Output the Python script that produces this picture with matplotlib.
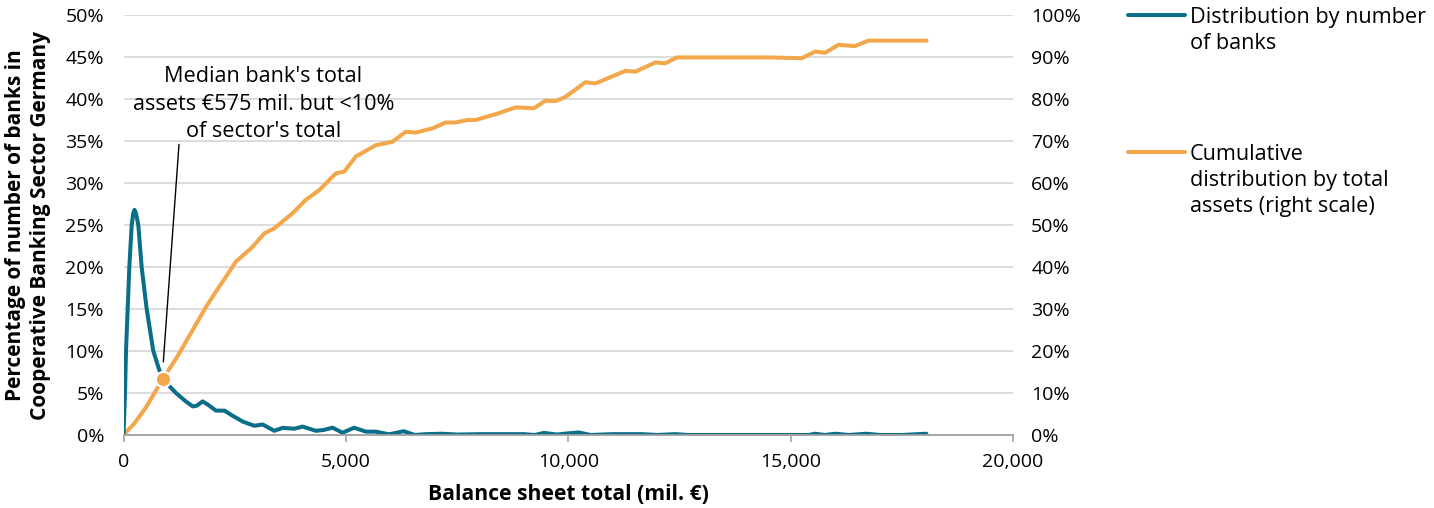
import matplotlib
matplotlib.use('Agg')
import matplotlib.pyplot as plt
from matplotlib.lines import Line2D
from matplotlib.ticker import FuncFormatter, MultipleLocator

plt.rcParams['font.family'] = ['Open Sans', 'DejaVu Sans']

# distribution by number of banks (left axis, %)
bank_x = [0, 34, 56, 94, 131, 184, 220, 247, 280, 333, 408, 521, 670, 800, 880, 1000, 1180,
          1400, 1560, 1650, 1780, 1900, 2080, 2270, 2450, 2680, 2940, 3130, 3390, 3580, 3840,
          4025, 4325, 4500, 4700, 4925, 5185, 5447, 5672, 5970, 6300, 6550, 6800, 7170,
          7500, 8000, 8500, 9000, 9250, 9450, 9750, 10000, 10240, 10500, 11000, 11650,
          12000, 12400, 12700, 13500, 14500, 15400, 15550, 15770, 16000, 16300, 16700,
          17000, 17500, 18050]
bank_pct = [0, 5, 10, 15, 20, 25, 26.4, 26.8, 26.4, 25, 20, 15, 10, 7.8, 6.7, 6.0, 5.0,
            4.0, 3.4, 3.5, 4.0, 3.6, 2.9, 2.9, 2.3, 1.6, 1.1, 1.25, 0.5, 0.85, 0.75,
            1.0, 0.5, 0.6, 0.87, 0.27, 0.87, 0.4, 0.4, 0.08, 0.45, 0.0, 0.1, 0.15,
            0.05, 0.1, 0.1, 0.1, 0.0, 0.25, 0.05, 0.2, 0.3, 0.0, 0.1, 0.1,
            0.0, 0.1, 0.0, 0.0, 0.0, 0.0, 0.15, 0.0, 0.15, 0.0, 0.15,
            0.0, 0.0, 0.15]

# cumulative distribution by total assets (right axis, %)
assets_x = [0, 247, 500, 883, 1200, 1556, 1855, 2100, 2305, 2530, 2903, 3165, 3390, 3800,
            4100, 4400, 4774, 4960, 5223, 5672, 6046, 6345, 6570, 6944, 7243, 7468, 7730,
            7917, 8400, 8815, 9226, 9488, 9712, 9936, 10385, 10610, 11283, 11508, 11957,
            12181, 12443, 13500, 14500, 15249, 15548, 15772, 16072, 16446, 16745, 17400,
            18054]
assets_pct = [0, 2.8, 6.5, 13.3, 18.5, 25, 30.5, 34.5, 37.7, 41.3, 44.8, 48, 49.2, 52.8,
              56, 58.3, 62.3, 62.7, 66.3, 69, 69.8, 72.2, 72, 73, 74.4, 74.4, 75,
              75, 76.5, 78, 77.8, 79.6, 79.5, 80.5, 84, 83.7, 86.7, 86.5, 88.7,
              88.5, 89.9, 89.9, 89.9, 89.7, 91.3, 91, 92.9, 92.6, 93.9, 93.9,
              93.9]

median_x = 880
median_pct = 6.7

legend_lines = [['Distribution by number', 'of banks'],
                ['Cumulative', 'distribution by total', 'assets (right scale)']]

blue = '#0b6e88'
orange = '#f2a74b'
grid_c = '#d9d9d9'
fs = 14
fs_txt = 15.6

fig = plt.figure(figsize=(14.34, 5.08), dpi=100)
ax = fig.add_axes([123.5 / 1434, 1 - 435 / 508, 889.6 / 1434, 420 / 508])
ax2 = ax.twinx()
ax.set_zorder(ax2.get_zorder() + 1)
ax.patch.set_visible(False)

ax2.plot(assets_x, assets_pct, color=orange, lw=2.9, solid_capstyle='round',
         solid_joinstyle='round')
ax.plot(bank_x, bank_pct, color=blue, lw=2.9, solid_capstyle='round',
        solid_joinstyle='round')
ax.plot([median_x], [median_pct], 'o', color=orange, markersize=11,
        markeredgecolor='white', markeredgewidth=1.5, zorder=5)

ax.set_xlim(0, 20000)
ax.set_ylim(0, 50)
ax2.set_ylim(0, 100)
ax.xaxis.set_major_locator(MultipleLocator(5000))
ax.yaxis.set_major_locator(MultipleLocator(5))
ax2.yaxis.set_major_locator(MultipleLocator(10))
ax.xaxis.set_major_formatter(FuncFormatter(lambda v, p: f'{v:,.0f}'))
ax.yaxis.set_major_formatter(FuncFormatter(lambda v, p: f'{v:.0f}%'))
ax2.yaxis.set_major_formatter(FuncFormatter(lambda v, p: f'{v:.0f}%'))

ax2.grid(axis='y', color=grid_c, lw=1.3)
ax2.set_axisbelow(True)

for a in (ax, ax2):
    for s in ('top', 'left', 'right'):
        a.spines[s].set_visible(False)
    a.spines['bottom'].set_color('#a6a6a6')
    a.spines['bottom'].set_linewidth(1.2)
ax.tick_params(axis='x', length=5, color='#a6a6a6', labelsize=fs, pad=8, width=1.2)
ax.tick_params(axis='y', length=0, labelsize=fs, pad=14)
ax2.tick_params(axis='y', length=0, labelsize=fs, pad=13)

ax.set_xlabel('Balance sheet total (mil. €)', fontsize=15.2, fontweight='bold', labelpad=9)
ax.set_ylabel('Percentage of number of banks in\nCooperative Banking Sector Germany',
              fontsize=15, fontweight='bold', labelpad=10, linespacing=1.25)

ax.annotate('', xy=(895, 8.7), xytext=(1248, 34.6),
            arrowprops=dict(arrowstyle='-', color='black', lw=1, shrinkA=0, shrinkB=0))
ax.text(3148, 39.4, "Median bank's total\nassets €575 mil. but <10%\nof sector's total",
        ha='center', va='center', fontsize=fs_txt, linespacing=1.42)

# legend
W, H = 1434, 508
for lines, y0, col in zip(legend_lines, (15, 152), (blue, orange)):
    fig.add_artist(Line2D([1128 / W, 1185 / W], [1 - y0 / H, 1 - y0 / H], color=col,
                          lw=2.9, solid_capstyle='round'))
    for i, s in enumerate(lines):
        fig.text(1190 / W, 1 - (y0 + 2 + 26.5 * i) / H, s, fontsize=fs_txt,
                 va='center', ha='left')

fig.savefig('out.png', dpi=100)
